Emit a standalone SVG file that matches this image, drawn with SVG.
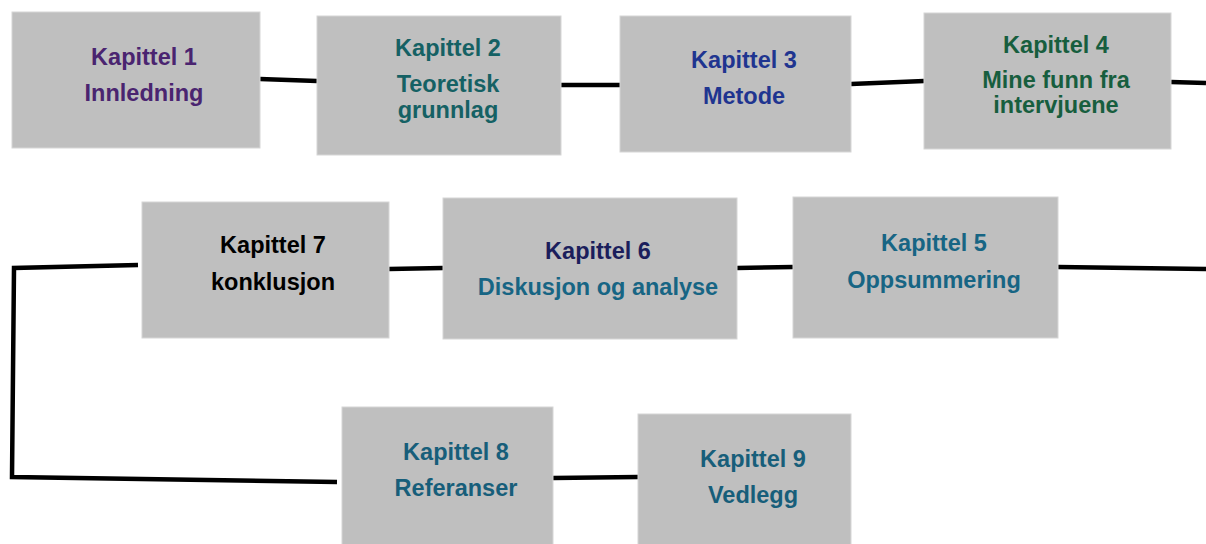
<svg xmlns="http://www.w3.org/2000/svg" width="1206" height="544" viewBox="0 0 1206 544">
<style>
.box{fill:#bfbfbf;stroke:#d6d6d6;stroke-width:1}
.t{font-family:"Liberation Sans",Arial,sans-serif;font-weight:bold;font-size:23.5px;text-anchor:middle}
.c{fill:none;stroke:#000;stroke-width:4.5;stroke-linejoin:miter}
</style>
<rect width="1206" height="544" fill="#fff"/>
<g id="connectors">
<path class="c" d="M260,79 L317,81"/>
<path class="c" d="M561,85 L620,85"/>
<path class="c" d="M851,84 L924,81"/>
<path class="c" d="M1171,82 L1206,83"/>
<path class="c" d="M1058,267 L1206,269"/>
<path class="c" d="M737,268 L793,267"/>
<path class="c" d="M389,269 L443,268"/>
<path class="c" d="M138,265 L14,268 L12,477 L337,482"/>
<path class="c" d="M553,478 L638,477"/>
</g>
<g id="n1"><rect class="box" x="12" y="12" width="248" height="136"/>
<text class="t" x="144" y="65" fill="#4a2470">Kapittel 1</text><text class="t" x="144" y="101" fill="#4a2470">Innledning</text></g>
<g id="n2"><rect class="box" x="317" y="16" width="244" height="139"/>
<text class="t" x="448" y="56" fill="#156164">Kapittel 2</text><text class="t" x="448" y="92" fill="#156164">Teoretisk</text><text class="t" x="448" y="118" fill="#156164">grunnlag</text></g>
<g id="n3"><rect class="box" x="620" y="16" width="231" height="136"/>
<text class="t" x="744" y="68" fill="#1f3590">Kapittel 3</text><text class="t" x="744" y="104" fill="#1f3590">Metode</text></g>
<g id="n4"><rect class="box" x="924" y="13" width="247" height="136"/>
<text class="t" x="1056" y="53" fill="#175e3e">Kapittel 4</text><text class="t" x="1056" y="88" fill="#175e3e">Mine funn fra</text><text class="t" x="1056" y="113" fill="#175e3e">intervjuene</text></g>
<g id="n5"><rect class="box" x="793" y="197" width="265" height="141"/>
<text class="t" x="934" y="251" fill="#176584">Kapittel 5</text><text class="t" x="934" y="288" fill="#176584">Oppsummering</text></g>
<g id="n6"><rect class="box" x="443" y="198" width="294" height="141"/>
<text class="t" x="598" y="259" fill="#1b1e5c">Kapittel 6</text><text class="t" x="598" y="295" fill="#176584">Diskusjon og analyse</text></g>
<g id="n7"><rect class="box" x="142" y="202" width="247" height="136"/>
<text class="t" x="273" y="253" fill="#000">Kapittel 7</text><text class="t" x="273" y="290" fill="#000">konklusjon</text></g>
<g id="n8"><rect class="box" x="342" y="407" width="211" height="140"/>
<text class="t" x="456" y="460" fill="#175e7a">Kapittel 8</text><text class="t" x="456" y="496" fill="#175e7a">Referanser</text></g>
<g id="n9"><rect class="box" x="638" y="414" width="213" height="133"/>
<text class="t" x="753" y="467" fill="#175e7a">Kapittel 9</text><text class="t" x="753" y="503" fill="#175e7a">Vedlegg</text></g>
</svg>
